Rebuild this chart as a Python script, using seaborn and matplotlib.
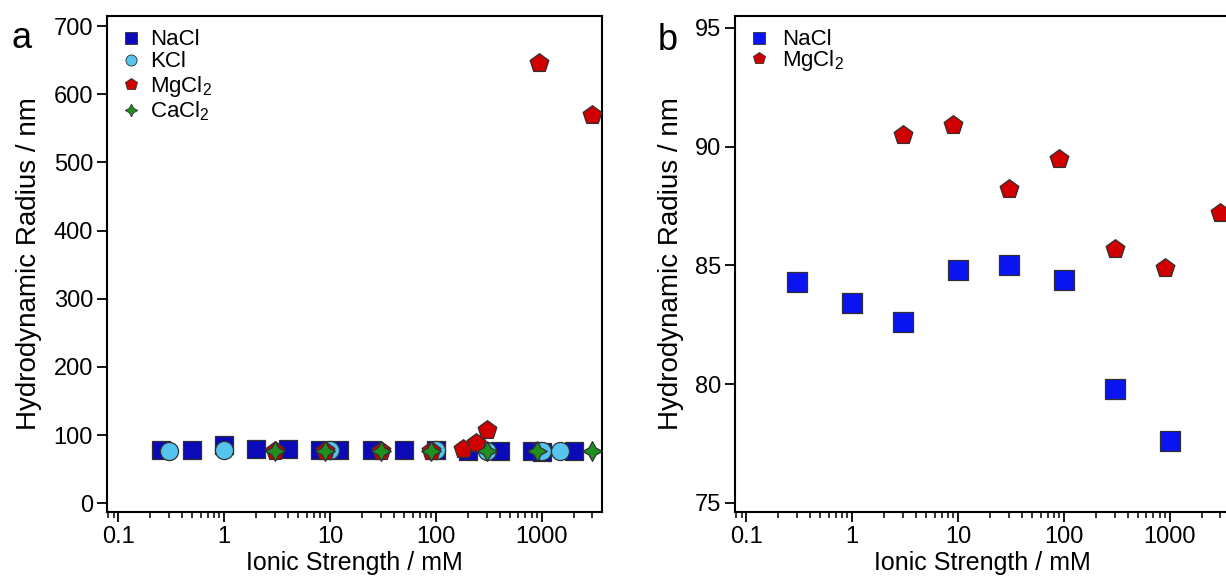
import matplotlib
matplotlib.use("Agg")
import matplotlib.pyplot as plt
from matplotlib.lines import Line2D
from matplotlib.ticker import LogLocator, FixedLocator, NullFormatter
import seaborn as sns
import pandas as pd

# ---------------- data ----------------
# panel a
a_nacl_x = [0.25, 0.5, 1, 2, 4, 8, 12, 25, 50, 100, 200, 400, 800, 1000, 2000]
a_nacl_y = [78, 78, 85, 79, 79, 78, 78, 78, 78, 78, 76, 76, 76, 75, 76]
a_kcl_x = [0.3, 1, 10, 100, 300, 1000, 1500]
a_kcl_y = [77, 78, 78, 78, 77, 76, 76]
a_mg_x = [3, 9, 30, 90, 180, 240, 300, 950, 3000]
a_mg_y = [77, 77, 77, 77, 79, 89, 107, 646, 569]
a_ca_x = [3, 9, 30, 90, 300, 900, 3000]
a_ca_y = [77, 77, 77, 77, 77, 77, 77]
# panel b
b_nacl_x = [0.3, 1, 3, 10, 30, 100, 300, 1000]
b_nacl_y = [84.3, 83.4, 82.6, 84.8, 85.0, 84.4, 79.8, 77.6]
b_mg_x = [3, 9, 30, 90, 300, 900, 3000]
b_mg_y = [90.5, 90.9, 88.2, 89.5, 85.7, 84.9, 87.2]

a_yticks = [0, 100, 200, 300, 400, 500, 600, 700]
b_yticks = [75, 80, 85, 90, 95]
x_ticks = [0.1, 1, 10, 100, 1000]
x_ticklabels = ["0.1", "1", "10", "100", "1000"]

# ---------------- style ----------------
sns.set_theme(style="ticks")
plt.rcParams["font.family"] = ["Liberation Sans", "DejaVu Sans"]
plt.rcParams["mathtext.fontset"] = "custom"
plt.rcParams["mathtext.rm"] = "Liberation Sans"
plt.rcParams["mathtext.it"] = "Liberation Sans:italic"
for k in ["text.color", "axes.labelcolor", "xtick.color", "ytick.color", "axes.edgecolor"]:
    plt.rcParams[k] = "black"

C_NACL_A = "#0a0ab8"
C_NACL_B = "#0a14f0"
C_KCL = "#55c4ef"
C_MG = "#d00000"
C_CA = "#1f8f1f"
EDGE = "#303030"
STAR = (4, 1, 0)

fig = plt.figure(figsize=(12.26, 5.81), dpi=100)
ax_a = fig.add_axes([107 / 1226, 69 / 581, 495 / 1226, 496 / 581])
ax_b = fig.add_axes([735 / 1226, 69 / 581, 495 / 1226, 496 / 581])


def scat(ax, x, y, marker, color, s):
    df = pd.DataFrame({"x": x, "y": y})
    sns.scatterplot(data=df, x="x", y="y", ax=ax, marker=marker, color=color,
                    s=s, edgecolor=EDGE, linewidth=0.9, legend=False, zorder=3)


scat(ax_a, a_nacl_x, a_nacl_y, "s", C_NACL_A, 185)
scat(ax_a, a_kcl_x, a_kcl_y, "o", C_KCL, 170)
scat(ax_a, a_mg_x, a_mg_y, "p", C_MG, 200)
scat(ax_a, a_ca_x, a_ca_y, STAR, C_CA, 200)

scat(ax_b, b_nacl_x, b_nacl_y, "s", C_NACL_B, 190)
scat(ax_b, b_mg_x, b_mg_y, "p", C_MG, 200)

for ax, lx in ((ax_a, 42), (ax_b, 684)):
    ax.set_xscale("log")
    ax.set_xlim(0.078, 3700)
    ax.xaxis.set_major_locator(FixedLocator(x_ticks))
    ax.set_xticklabels(x_ticklabels)
    ax.xaxis.set_minor_locator(LogLocator(base=10, subs=range(2, 10), numticks=20))
    ax.xaxis.set_minor_formatter(NullFormatter())
    for sp in ax.spines.values():
        sp.set_linewidth(1.5)
        sp.set_color("black")
    ax.tick_params(axis="both", which="major", direction="out", length=7,
                   width=1.3, labelsize=17, color="black", pad=3)
    ax.tick_params(axis="x", which="minor", direction="out", length=4,
                   width=1.1, color="black")
    ax.set_xlabel("Ionic Strength / mM", fontsize=18, labelpad=2)
    ax.set_ylabel("Hydrodynamic Radius / nm", fontsize=20)
    x0 = ax.get_position().x0 * 1226
    w = ax.get_position().width * 1226
    ax.yaxis.set_label_coords((lx - x0) / w, 0.5)

ax_a.set_ylim(-13, 715)
ax_a.yaxis.set_major_locator(FixedLocator(a_yticks))
ax_b.set_ylim(74.62, 95.5)
ax_b.yaxis.set_major_locator(FixedLocator(b_yticks))

fig.text(22 / 1226, 1 - 38 / 581, "a", fontsize=26, ha="center", va="center")
fig.text(668 / 1226, 1 - 40 / 581, "b", fontsize=26, ha="center", va="center")


def h(marker, color, ms):
    return Line2D([], [], linestyle="none", marker=marker, markerfacecolor=color,
                  markeredgecolor=EDGE, markeredgewidth=0.6, markersize=ms)


ax_a.legend(handles=[h("s", C_NACL_A, 8), h("o", C_KCL, 8), h("p", C_MG, 9), h(STAR, C_CA, 9)],
            labels=["NaCl", "KCl", r"MgCl$_\mathregular{2}$", r"CaCl$_\mathregular{2}$"],
            loc="upper left", frameon=False, fontsize=16, handlelength=1.0,
            handletextpad=0.35, labelspacing=0.05, borderaxespad=0.2,
            bbox_to_anchor=(0.0, 1.0))
ax_b.legend(handles=[h("s", C_NACL_B, 8), h("p", C_MG, 9)],
            labels=["NaCl", r"MgCl$_\mathregular{2}$"],
            loc="upper left", frameon=False, fontsize=16, handlelength=1.0,
            handletextpad=0.5, labelspacing=-0.1, borderaxespad=0.2,
            bbox_to_anchor=(0.0, 1.0))

fig.savefig("out.png", dpi=100)
